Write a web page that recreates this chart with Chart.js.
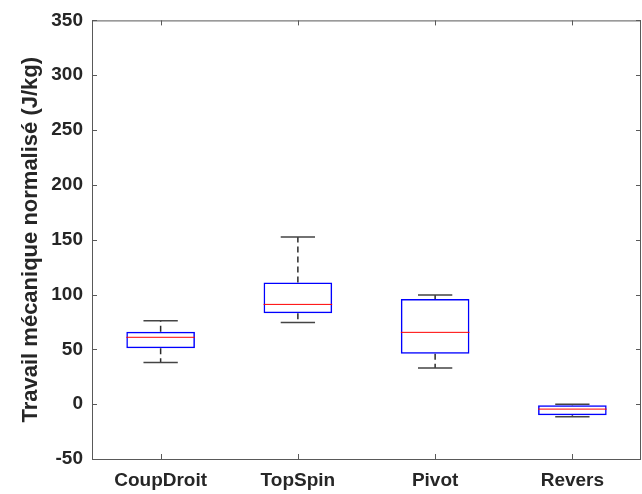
<!DOCTYPE html>
<html lang="fr">

<head>
    <meta charset="UTF-8">
    <title>boxplot</title>
    <script src="https://cdn.jsdelivr.net/npm/chart.js@4.4.0/dist/chart.umd.min.js"></script>
    <style>
        * {
            margin: 0;
            padding: 0;
        }

        body {
            background: #fff;
        }
    </style>
</head>

<body>
    <canvas id="myChart" width="642" height="494"></canvas>

    <script>
        // mouvements et statistiques de chaque boîte
        var mouvements = ['CoupDroit', 'TopSpin', 'Pivot', 'Revers'];
        var minimums = [38, 74.5, 33, -11.5];
        var quartile1 = [51, 83, 46, -10];
        var medianes = [61, 91, 65.5, -4.5];
        var quartile3 = [66, 111, 96, -1];
        var maximums = [76, 152.5, 99.5, 0];
        var graduationsY = [-50, 0, 50, 100, 150, 200, 250, 300, 350];

        var axisColor = '#595959';
        var textColor = '#262626';

        // moustaches, médianes et cadre façon matlab
        var boxExtras = {
            id: 'boxExtras',
            afterDatasetsDraw: function (chart) {
                var ctx = chart.ctx;
                var x = chart.scales.x;
                var y = chart.scales.y;
                var step = x.getPixelForValue(1) - x.getPixelForValue(0);
                ctx.save();
                for (var i = 0; i < mouvements.length; i++) {
                    var cx = x.getPixelForValue(i);
                    var halfBox = step * 0.25;
                    var halfCap = step * 0.125;

                    // moustaches en pointillés
                    ctx.strokeStyle = '#2b2b2b';
                    ctx.lineWidth = 1.5;
                    ctx.setLineDash([6, 4]);
                    ctx.beginPath();
                    ctx.moveTo(cx, y.getPixelForValue(quartile3[i]));
                    ctx.lineTo(cx, y.getPixelForValue(maximums[i]));
                    ctx.moveTo(cx, y.getPixelForValue(quartile1[i]));
                    ctx.lineTo(cx, y.getPixelForValue(minimums[i]));
                    ctx.stroke();

                    // extrémités
                    ctx.setLineDash([]);
                    ctx.strokeStyle = '#444';
                    ctx.beginPath();
                    ctx.moveTo(cx - halfCap, y.getPixelForValue(maximums[i]));
                    ctx.lineTo(cx + halfCap, y.getPixelForValue(maximums[i]));
                    ctx.moveTo(cx - halfCap, y.getPixelForValue(minimums[i]));
                    ctx.lineTo(cx + halfCap, y.getPixelForValue(minimums[i]));
                    ctx.stroke();

                    // médiane
                    ctx.strokeStyle = '#ff0000';
                    ctx.lineWidth = 1;
                    ctx.beginPath();
                    ctx.moveTo(cx - halfBox, y.getPixelForValue(medianes[i]));
                    ctx.lineTo(cx + halfBox, y.getPixelForValue(medianes[i]));
                    ctx.stroke();
                }
                ctx.restore();
            },
            afterDraw: function (chart) {
                var ctx = chart.ctx;
                var a = chart.chartArea;
                var x = chart.scales.x;
                var y = chart.scales.y;
                var tick = 5;
                ctx.save();
                ctx.strokeStyle = axisColor;
                ctx.lineWidth = 1;
                ctx.strokeRect(a.left + 0.5, a.top + 0.5, a.right - a.left - 1, a.bottom - a.top);
                ctx.beginPath();
                for (var i = 0; i < mouvements.length; i++) {
                    var px = Math.round(x.getPixelForValue(i)) + 0.5;
                    ctx.moveTo(px, a.bottom);
                    ctx.lineTo(px, a.bottom - tick);
                    ctx.moveTo(px, a.top);
                    ctx.lineTo(px, a.top + tick);
                }
                graduationsY.forEach(function (v) {
                    var py = Math.round(y.getPixelForValue(v)) + 0.5;
                    ctx.moveTo(a.left, py);
                    ctx.lineTo(a.left + tick, py);
                    ctx.moveTo(a.right, py);
                    ctx.lineTo(a.right - tick, py);
                });
                ctx.stroke();
                ctx.restore();
            }
        };

        var ctx = document.getElementById('myChart').getContext('2d');
        new Chart(ctx, {
            type: 'bar',
            data: {
                labels: mouvements,
                datasets: [{
                    label: 'boîtes',
                    data: quartile1.map(function (q, i) { return [q, quartile3[i]]; }),
                    backgroundColor: 'rgba(0,0,0,0)',
                    borderColor: '#0000ff',
                    borderWidth: 1.5,
                    borderSkipped: false,
                    categoryPercentage: 1,
                    barPercentage: 0.5
                }]
            },
            options: {
                responsive: false,
                animation: false,
                layout: {
                    padding: { top: 14, right: 1, left: 0, bottom: 0 }
                },
                plugins: {
                    legend: { display: false },
                    tooltip: { enabled: false }
                },
                scales: {
                    x: {
                        grid: { display: false, drawTicks: false },
                        border: { display: false },
                        ticks: {
                            color: textColor,
                            padding: 10,
                            font: { family: 'Liberation Sans', size: 19, weight: 'bold' }
                        },
                        afterFit: function (scale) { scale.height = 35; }
                    },
                    y: {
                        min: -50,
                        max: 350,
                        afterBuildTicks: function (scale) {
                            scale.ticks = graduationsY.map(function (v) { return { value: v }; });
                        },
                        grid: { display: false, drawTicks: false },
                        border: { display: false },
                        ticks: {
                            color: textColor,
                            padding: 9,
                            font: { family: 'Liberation Sans', size: 19, weight: 'bold' }
                        },
                        title: {
                            display: true,
                            text: 'Travail mécanique normalisé (J/kg)',
                            color: textColor,
                            padding: { top: 18, bottom: 0 },
                            font: { family: 'Liberation Sans', size: 22, weight: 'bold' }
                        },
                        afterFit: function (scale) { scale.width = 92; }
                    }
                }
            },
            plugins: [boxExtras]
        });
    </script>

</body>

</html>
